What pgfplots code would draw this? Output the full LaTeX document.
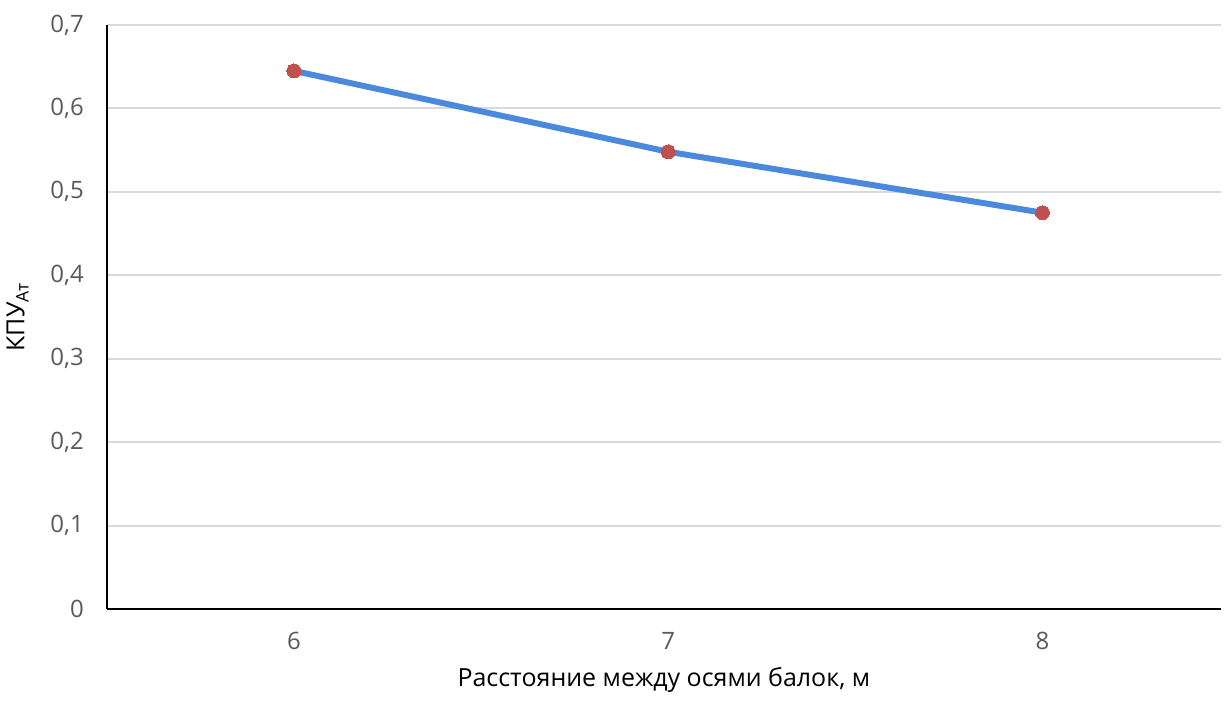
\documentclass[border=0pt]{standalone}
\usepackage{pgfplots}
\pgfplotsset{compat=1.18}
\usepackage{fontspec}
\setmainfont{Open Sans}
\usetikzlibrary{calc}
\definecolor{lineblue}{HTML}{4A89DC}
\definecolor{markred}{HTML}{C0504D}
\definecolor{gridgray}{HTML}{D9D9D9}
\definecolor{ticktext}{HTML}{595959}
\begin{document}
\begin{tikzpicture}
\begin{axis}[
  scale only axis,
  width=558pt, height=292.5pt,
  xmin=5.5, xmax=8.477,
  ymin=0, ymax=0.7,
  axis lines*=left,
  axis line style={black, line width=1pt},
  xtick={6,7,8},
  ytick={0,0.1,0.2,0.3,0.4,0.5,0.6,0.7},
  major tick length=0pt,
  ymajorgrids,
  grid style={gridgray, line width=1pt},
  /pgf/number format/assume math mode=true,
  /pgf/number format/use comma,
  yticklabel={\pgfmathprintnumber[fixed,precision=1,use comma]{\tick}},
  ticklabel style={font=\fontsize{12}{14}\selectfont, text=ticktext},
  yticklabel style={xshift=-8pt},
  xticklabel style={yshift=-8pt},
  xlabel={Расстояние между осями балок, м},
  ylabel={КПУ\textsubscript{Ат}},
  label style={font=\fontsize{12.5}{15}\selectfont, text=black},
  xlabel style={yshift=-2pt},
  ylabel style={yshift=4pt},
  clip=false,
]
\addplot[lineblue, line width=3pt, mark=*, mark size=3.5pt,
  mark options={markred, draw=markred, fill=markred, line width=0pt}]
  coordinates {(6,0.645) (7,0.548) (8,0.475)};
\end{axis}
\path[use as bounding box] ($(current axis.south west)+(-52.5pt,-46.5pt)$) rectangle ($(current axis.north east)+(2pt,12.5pt)$);
\end{tikzpicture}
\end{document}
